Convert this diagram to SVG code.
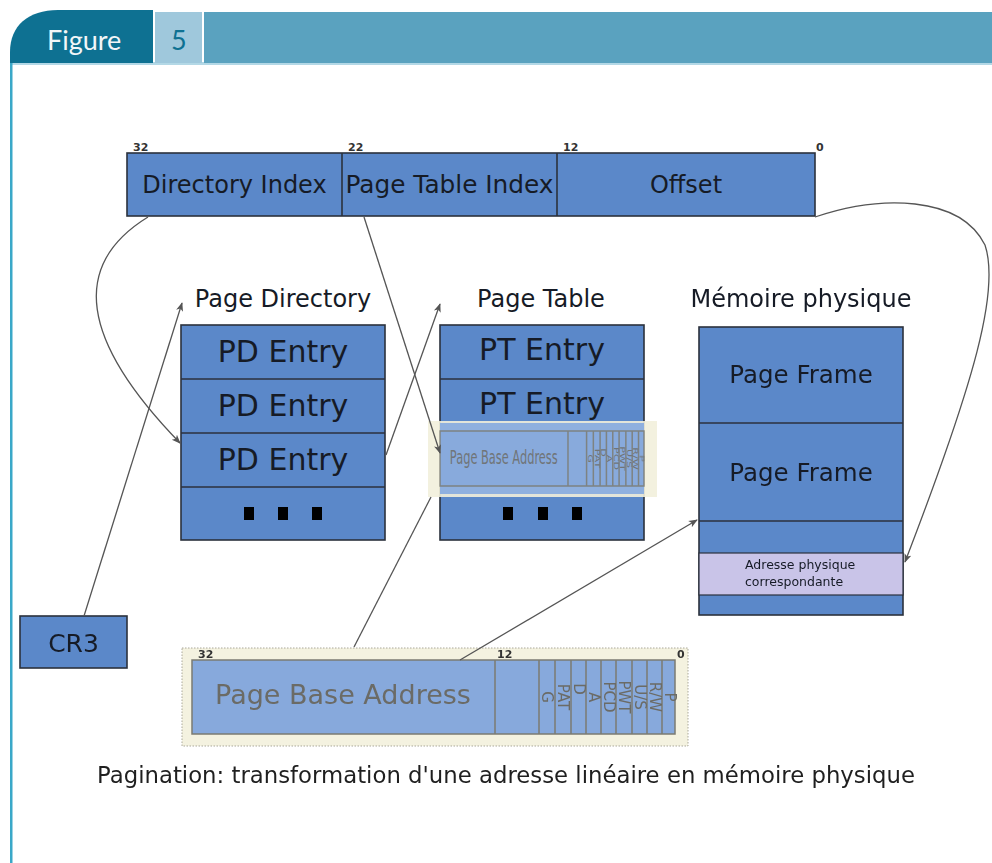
<svg xmlns="http://www.w3.org/2000/svg" xmlns:xlink="http://www.w3.org/1999/xlink" width="992" height="863" viewBox="0 0 992 863">
  <style>
    .box{fill:#5b88c9;stroke:#2b313c;stroke-width:1.6}
    .sep{stroke:#2b313c;stroke-width:1.6}
    .lbl{font-family:"DejaVu Sans",sans-serif;fill:#161b26}
    .bit{font-family:"DejaVu Sans",sans-serif;font-size:11px;fill:#333;font-weight:bold}
    .conn{fill:none;stroke:#555;stroke-width:1.3}
    .pba{fill:#87a9dc;stroke:#7b7b72;stroke-width:1.5}
    .pbl{stroke:#7b7b72;stroke-width:1.5}
    .pbt{font-family:"DejaVu Sans",sans-serif;fill:#6b6b66}
    .cream{fill:#f4f2e0;stroke:#aaa89a;stroke-width:1;stroke-dasharray:1.5 1.5}
  </style>
  <defs>
    <marker id="arr" viewBox="0 0 10 10" refX="9" refY="5" markerWidth="9" markerHeight="9" markerUnits="userSpaceOnUse" orient="auto">
      <path d="M0,1 L10,5 L0,9 L2.5,5 Z" fill="#555"/>
    </marker>
    <!-- page directory / page table entry bit layout -->
    <g id="pbaBar">
      <rect class="pba" x="192" y="660" width="483" height="74" vector-effect="non-scaling-stroke"/>
      <g class="pbl" vector-effect="non-scaling-stroke">
        <line x1="495" y1="660" x2="495" y2="734" vector-effect="non-scaling-stroke"/>
        <line x1="539" y1="660" x2="539" y2="734" vector-effect="non-scaling-stroke"/>
        <line x1="555" y1="660" x2="555" y2="734" vector-effect="non-scaling-stroke"/>
        <line x1="571" y1="660" x2="571" y2="734" vector-effect="non-scaling-stroke"/>
        <line x1="586" y1="660" x2="586" y2="734" vector-effect="non-scaling-stroke"/>
        <line x1="601" y1="660" x2="601" y2="734" vector-effect="non-scaling-stroke"/>
        <line x1="616" y1="660" x2="616" y2="734" vector-effect="non-scaling-stroke"/>
        <line x1="632" y1="660" x2="632" y2="734" vector-effect="non-scaling-stroke"/>
        <line x1="647" y1="660" x2="647" y2="734" vector-effect="non-scaling-stroke"/>
        <line x1="662" y1="660" x2="662" y2="734" vector-effect="non-scaling-stroke"/>
      </g>
      <text class="pbt" x="343" y="704" font-size="27" text-anchor="middle">Page Base Address</text>
      <g class="pbt" font-size="15" text-anchor="middle">
        <text transform="translate(542,697) rotate(90)">G</text>
        <text transform="translate(558,697) rotate(90)">PAT</text>
        <text transform="translate(573.5,689) rotate(90)">D</text>
        <text transform="translate(588.5,697) rotate(90)">A</text>
        <text transform="translate(603.5,697) rotate(90)">PCD</text>
        <text transform="translate(619,697) rotate(90)">PWT</text>
        <text transform="translate(634.5,697) rotate(90)">U/S</text>
        <text transform="translate(649.5,697) rotate(90)">R/W</text>
        <text transform="translate(664.5,697) rotate(90)">P</text>
      </g>
    </g>
  </defs>

  <rect width="992" height="863" fill="#ffffff"/>

  <!-- header band -->
  <g id="header">
    <rect x="10" y="62" width="982" height="3" fill="#b3d8e6"/>
    <rect x="10" y="62" width="2.5" height="801" fill="#3aa8c8"/>
    <path d="M10,63 V52 C10,26 28,10 58,10 H153 V63 Z" fill="#0e7192"/>
    <rect x="155" y="12" width="47" height="51" fill="#9fc8dc"/>
    <rect x="204" y="12" width="788" height="51" fill="#5aa2bf"/>
    <text x="47" y="50" font-family="Lato, 'Open Sans', sans-serif" font-size="27" fill="#f2f6f8">Figure</text>
    <text x="171" y="50" font-family="Lato, 'Open Sans', sans-serif" font-size="27" fill="#0e7192">5</text>
  </g>

  <!-- linear address -->
  <g id="linear-address">
    <rect class="box" x="127" y="153" width="688" height="63"/>
    <line class="sep" x1="342" y1="153" x2="342" y2="216"/>
    <line class="sep" x1="557" y1="153" x2="557" y2="216"/>
    <text class="lbl" x="234.5" y="193" font-size="24" text-anchor="middle">Directory Index</text>
    <text class="lbl" x="449.5" y="193" font-size="24" text-anchor="middle" textLength="208" lengthAdjust="spacingAndGlyphs">Page Table Index</text>
    <text class="lbl" x="686" y="193" font-size="24" text-anchor="middle">Offset</text>
    <text class="bit" x="133" y="151">32</text>
    <text class="bit" x="348" y="151">22</text>
    <text class="bit" x="563" y="151">12</text>
    <text class="bit" x="816" y="151">0</text>
  </g>

  <!-- page directory -->
  <g id="page-directory">
    <text class="lbl" x="283" y="307" font-size="24" text-anchor="middle">Page Directory</text>
    <rect class="box" x="181" y="325" width="204" height="215"/>
    <line class="sep" x1="181" y1="379" x2="385" y2="379"/>
    <line class="sep" x1="181" y1="433" x2="385" y2="433"/>
    <line class="sep" x1="181" y1="487" x2="385" y2="487"/>
    <text class="lbl" x="283" y="362" font-size="30" text-anchor="middle">PD Entry</text>
    <text class="lbl" x="283" y="416" font-size="30" text-anchor="middle">PD Entry</text>
    <text class="lbl" x="283" y="470" font-size="30" text-anchor="middle">PD Entry</text>
    <rect x="244" y="507" width="10" height="13" fill="#000"/>
    <rect x="278" y="507" width="10" height="13" fill="#000"/>
    <rect x="312" y="507" width="10" height="13" fill="#000"/>
  </g>

  <!-- page table -->
  <g id="page-table">
    <text class="lbl" x="541" y="307" font-size="24" text-anchor="middle">Page Table</text>
    <rect class="box" x="440" y="325" width="204" height="215"/>
    <line class="sep" x1="440" y1="379" x2="644" y2="379"/>
    <line class="sep" x1="440" y1="433" x2="644" y2="433"/>
    <line class="sep" x1="440" y1="487" x2="644" y2="487"/>
    <text class="lbl" x="542" y="360" font-size="30" text-anchor="middle">PT Entry</text>
    <text class="lbl" x="542" y="414" font-size="30" text-anchor="middle">PT Entry</text>
    <rect x="503" y="507" width="10" height="13" fill="#000"/>
    <rect x="538" y="507" width="10" height="13" fill="#000"/>
    <rect x="572" y="507" width="10" height="13" fill="#000"/>
    <!-- entry detail, shown in place -->
    <g id="pt-entry-detail">
      <rect x="428" y="421" width="229" height="76" fill="#f2f0dc" opacity="0.9"/>
      <rect x="440" y="423" width="204" height="71" fill="#8fb0df"/>
      <use xlink:href="#pbaBar" transform="translate(440,431) scale(0.4224,0.743) translate(-192,-660)" opacity="0.85"/>
    </g>
  </g>

  <!-- physical memory -->
  <g id="physical-memory">
    <text class="lbl" x="801" y="307" font-size="24" text-anchor="middle">Mémoire physique</text>
    <rect class="box" x="699" y="327" width="204" height="288"/>
    <line class="sep" x1="699" y1="423" x2="903" y2="423"/>
    <line class="sep" x1="699" y1="521" x2="903" y2="521"/>
    <rect x="699" y="553" width="204" height="42" fill="#c9c4e8" stroke="#2b313c" stroke-width="1.2"/>
    <text class="lbl" x="801" y="383" font-size="24.5" text-anchor="middle">Page Frame</text>
    <text class="lbl" x="801" y="481" font-size="24.5" text-anchor="middle">Page Frame</text>
    <text class="lbl" x="745" y="569" font-size="12.5" fill="#262a4a">Adresse physique</text>
    <text class="lbl" x="745" y="586" font-size="12.5" fill="#262a4a">correspondante</text>
  </g>

  <!-- CR3 register -->
  <g id="cr3">
    <rect class="box" x="20" y="616" width="107" height="52"/>
    <text class="lbl" x="73.5" y="652" font-size="25" text-anchor="middle">CR3</text>
  </g>

  <!-- selected entry, full size -->
  <g id="page-entry">
    <rect class="cream" x="182" y="648" width="506" height="98"/>
    <use xlink:href="#pbaBar"/>
    <text class="bit" x="198" y="658">32</text>
    <text class="bit" x="497" y="658">12</text>
    <text class="bit" x="677" y="658">0</text>
  </g>

  <!-- connectors -->
  <g id="connectors">
    <path class="conn" d="M148,217 C70,265 80,340 180,443" marker-end="url(#arr)"/>
    <line class="conn" x1="84" y1="616" x2="182" y2="303" marker-end="url(#arr)"/>
    <line class="conn" x1="386" y1="455" x2="440" y2="304" marker-end="url(#arr)"/>
    <line class="conn" x1="364" y1="217" x2="440" y2="453" marker-end="url(#arr)"/>
    <line class="conn" x1="354" y1="647" x2="431" y2="497"/>
    <line class="conn" x1="460" y1="660" x2="697" y2="520" marker-end="url(#arr)"/>
    <path class="conn" d="M815,217 C880,195 960,195 985,245 C1000,290 975,380 905,562" marker-end="url(#arr)"/>
  </g>

  <text x="506" y="783" font-family="'DejaVu Sans', sans-serif" font-size="22.5" fill="#1f1f1f" text-anchor="middle" textLength="818" lengthAdjust="spacingAndGlyphs">Pagination: transformation d'une adresse linéaire en mémoire physique</text>
</svg>
